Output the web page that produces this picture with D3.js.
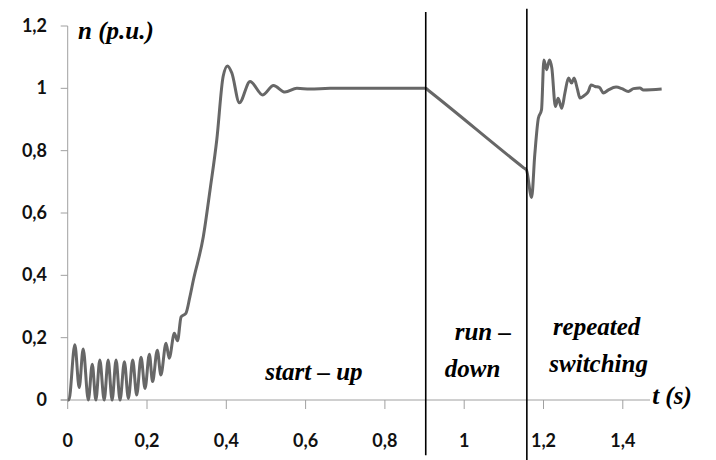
<!DOCTYPE html>
<html>
<head>
<meta charset="utf-8">
<script src="https://cdn.jsdelivr.net/npm/d3@7"></script>
<style>
  body { margin: 0; background: #fff; }
  .tick-label { font-family: Lato, "Open Sans", sans-serif; font-weight: 700; font-size: 18px; fill: #111; }
  .note { font-family: "Liberation Serif", "DejaVu Serif", serif; font-weight: 900; font-style: italic; font-size: 25px; fill: #000; }
</style>
</head>
<body>
<script>
// speed n (p.u.) against time t (s)
var time = [0, 0.003, 0.018, 0.029, 0.039, 0.052, 0.062, 0.071, 0.081, 0.092,
    0.102, 0.112, 0.122, 0.132, 0.143, 0.153, 0.164, 0.174, 0.185, 0.195,
    0.206, 0.214, 0.226, 0.235, 0.248, 0.256, 0.269, 0.277, 0.286, 0.298,
    0.308, 0.317, 0.342, 0.359, 0.376, 0.392, 0.403, 0.414, 0.433, 0.46,
    0.492, 0.519, 0.548, 0.578, 0.611, 0.662, 0.903, 0.91, 1.15, 1.157,
    1.170, 1.178, 1.187, 1.195, 1.201, 1.208, 1.215, 1.221, 1.230, 1.237,
    1.246, 1.254, 1.263, 1.271, 1.277, 1.285, 1.292, 1.305, 1.313, 1.320,
    1.330, 1.341, 1.351, 1.364, 1.383, 1.398, 1.414, 1.427, 1.443, 1.452, 1.498];
var speed = [0, 0, 0.177, 0.04, 0.164, 0, 0.115, 0, 0.128, 0,
    0.128, 0, 0.128, 0, 0.123, 0.005, 0.128, 0.016, 0.137, 0.037,
    0.147, 0.059, 0.16, 0.08, 0.182, 0.134, 0.214, 0.19, 0.267, 0.278,
    0.33, 0.385, 0.524, 0.674, 0.835, 1.038, 1.072, 1.049, 0.954, 1.022,
    0.979, 1.009, 0.988, 1.0, 0.998, 1.0, 1.0, 0.993, 0.745, 0.738,
    0.65, 0.787, 0.904, 0.931, 1.091, 1.06, 1.091, 1.065, 0.942, 0.968,
    0.936, 0.985, 1.033, 1.017, 1.033, 1.0, 0.969, 0.979, 0.99, 1.011,
    1.006, 1.003, 0.985, 0.995, 1.004, 0.999, 0.99, 0.999, 1.001, 0.995, 0.998];

var xTicks = [0, 0.2, 0.4, 0.6, 0.8, 1, 1.2, 1.4];
var yTicks = [0, 0.2, 0.4, 0.6, 0.8, 1, 1.2];
var phaseBounds = [0.903, 1.158];

var width = 716,
    height = 460;

var x = d3.scaleLinear().domain([0, 1.4]).range([67.7, 622.8]);
var y = d3.scaleLinear().domain([0, 1.2]).range([400, 26]);
var comma = function(d) { return String(d).replace(".", ","); };

var svg = d3.select("body")
    .append("svg")
    .attr("width", width)
    .attr("height", height);

// axes lines
svg.append("line")
    .attr("x1", x(0)).attr("x2", x(0))
    .attr("y1", y(1.2)).attr("y2", y(0))
    .attr("stroke", "#a0a0a0");
svg.append("line")
    .attr("x1", x(0) - 7).attr("x2", 650)
    .attr("y1", y(0)).attr("y2", y(0))
    .attr("stroke", "#a0a0a0");

// y ticks
svg.selectAll(".ytick")
    .data(yTicks)
    .enter()
    .append("line")
    .attr("x1", x(0) - 7).attr("x2", x(0))
    .attr("y1", function(d) { return y(d); })
    .attr("y2", function(d) { return y(d); })
    .attr("stroke", "#a0a0a0");
svg.selectAll(".ylab")
    .data(yTicks)
    .enter()
    .append("text")
    .attr("class", "tick-label")
    .attr("text-anchor", "end")
    .attr("x", 47)
    .attr("y", function(d) { return y(d) + 6; })
    .text(comma);

// x ticks
svg.selectAll(".xtick")
    .data(xTicks)
    .enter()
    .append("line")
    .attr("x1", function(d) { return x(d); })
    .attr("x2", function(d) { return x(d); })
    .attr("y1", y(0)).attr("y2", y(0) + 9)
    .attr("stroke", "#a0a0a0");
svg.selectAll(".xlab")
    .data(xTicks)
    .enter()
    .append("text")
    .attr("class", "tick-label")
    .attr("text-anchor", "middle")
    .attr("x", function(d) { return x(d); })
    .attr("y", 447)
    .text(comma);

// speed curve
var points = d3.zip(time, speed);
svg.append("path")
    .datum(points)
    .attr("fill", "none")
    .attr("stroke", "#676767")
    .attr("stroke-width", 3)
    .attr("stroke-linejoin", "round")
    .attr("d", d3.line()
        .x(function(d) { return x(d[0]); })
        .y(function(d) { return y(d[1]); })
        .curve(d3.curveMonotoneX));

// phase boundaries
var boundTop = [1.245, 1.255],
    boundBottom = [-0.177, -0.193];
svg.selectAll(".bound")
    .data(phaseBounds)
    .enter()
    .append("line")
    .attr("x1", function(d) { return x(d); })
    .attr("x2", function(d) { return x(d); })
    .attr("y1", function(d, i) { return y(boundTop[i]); })
    .attr("y2", function(d, i) { return y(boundBottom[i]); })
    .attr("stroke", "#000")
    .attr("stroke-width", 1.6);

// annotations
var notes = [
    { text: "n (p.u.)", t: 0.026, n: 1.158, anchor: "start" },
    { text: "start \u2013 up", t: 0.621, n: 0.064, anchor: "middle" },
    { text: "run \u2013", t: 1.047, n: 0.1925, anchor: "middle" },
    { text: "down", t: 1.021, n: 0.074, anchor: "middle" },
    { text: "repeated", t: 1.334, n: 0.2086, anchor: "middle" },
    { text: "switching", t: 1.339, n: 0.0898, anchor: "middle" },
    { text: "t (s)", t: 1.474, n: -0.013, anchor: "start" }
];
svg.selectAll(".note")
    .data(notes)
    .enter()
    .append("text")
    .attr("class", "note")
    .attr("text-anchor", function(d) { return d.anchor; })
    .attr("x", function(d) { return x(d.t); })
    .attr("y", function(d) { return y(d.n); })
    .text(function(d) { return d.text; });
</script>
</body>
</html>
